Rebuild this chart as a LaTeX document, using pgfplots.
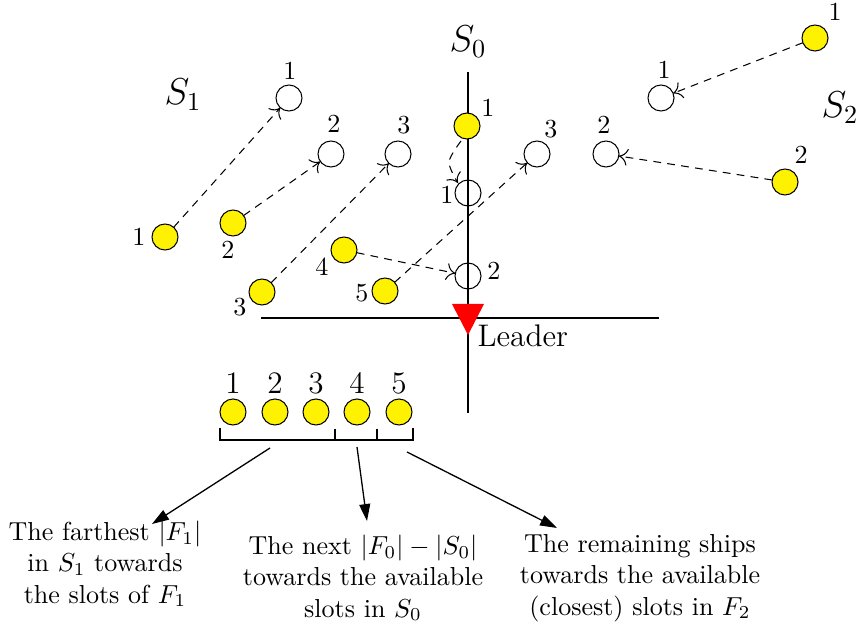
\documentclass[border=0pt]{standalone}
\usepackage{pgfplots}
\pgfplotsset{compat=1.18}
\usetikzlibrary{arrows.meta}
\begin{document}
\begin{tikzpicture}
\begin{axis}[scale only axis, width=330pt, height=241.25pt,
  xmin=0, xmax=859, ymin=0, ymax=628, y dir=reverse,
  hide axis, clip=false]
% horizontal line
\addplot[black, line width=0.5pt, mark=none] coordinates {(261,318) (659,318)};
% dashed moves
\pgfplotsset{mv/.style={black, mark=none, line width=0.4pt, dash pattern=on 3pt off 2.4pt,
  -{To[length=3.4pt,width=6.5pt]}, shorten <=5pt, shorten >=5pt}}
\addplot[mv] coordinates {(165,237) (289,98)};
\addplot[mv] coordinates {(233,223) (331,154)};
\addplot[mv] coordinates {(262,292) (398,154)};
\addplot[mv] coordinates {(344,250) (468,276)};
\addplot[mv] coordinates {(385,291) (537,154)};
\addplot[mv] coordinates {(815,38) (661,98)};
\addplot[mv] coordinates {(785,182) (606,154)};
\addplot[black, mark=none, line width=0.4pt, dash pattern=on 3pt off 2.4pt,
  -{To[length=3.4pt,width=6.5pt]}, smooth] coordinates {(461,141) (449,162) (458,183)};
% ships (yellow)
\addplot[only marks, mark=*, mark size=5pt, mark options={fill=yellow, draw=black, line width=0.4pt}]
 coordinates {(165,237) (233,223) (262,292) (344,250) (385,291) (467,126) (815,38) (785,182)
 (233,412) (275,412) (316,412) (357,412) (399,412)};
% slots (empty)
\addplot[only marks, mark=o, mark size=5pt, mark options={draw=black, line width=0.4pt}]
 coordinates {(289,98) (331,154) (398,154) (468,193) (468,276) (537,154) (606,154) (661,98)};
% vertical line
\addplot[black, line width=0.5pt, mark=none] coordinates {(468,72) (468,413)};
% leader triangle
\addplot[fill=red, draw=none, mark=none] coordinates {(452,304) (484,304) (468,335) (452,304)};
% bracket
\addplot[black, line width=0.4pt, mark=none] coordinates {(220,428) (220,440) (413,440) (413,428)};
\addplot[black, line width=0.4pt, mark=none] coordinates {(335,429) (335,440)};
\addplot[black, line width=0.4pt, mark=none] coordinates {(377,429) (377,440)};
% solid arrows
\pgfplotsset{sa/.style={black, mark=none, line width=0.5pt, -{Triangle[length=6.5pt,width=4.2pt]}}}
\addplot[sa] coordinates {(270,448) (152,524)};
\addplot[sa] coordinates {(357,447) (367,521)};
\addplot[sa] coordinates {(407,452) (557,528)};
% labels
\node at (axis cs:183,95) {\Large $S_1$};
\node at (axis cs:468,42) {\Large $S_0$};
\node at (axis cs:840,108) {\Large $S_2$};
\node at (axis cs:139,237) {1};
\node at (axis cs:228,250) {2};
\node at (axis cs:240,307) {3};
\node at (axis cs:322,267) {4};
\node at (axis cs:362,293) {5};
\node at (axis cs:290,71) {1};
\node at (axis cs:334,124) {2};
\node at (axis cs:404,125) {3};
\node at (axis cs:488,108) {1};
\node at (axis cs:447,195) {1};
\node at (axis cs:494,271) {2};
\node at (axis cs:551,129) {3};
\node at (axis cs:604,125) {2};
\node at (axis cs:664,70) {1};
\node at (axis cs:835,12) {1};
\node at (axis cs:801,155) {2};
\node[anchor=west, inner sep=0pt] at (axis cs:477,336) {\large Leader};
\node at (axis cs:233,383) {\large 1};
\node at (axis cs:275,383) {\large 2};
\node at (axis cs:316,383) {\large 3};
\node at (axis cs:357,383) {\large 4};
\node at (axis cs:399,383) {\large 5};
\node[align=center] at (axis cs:105,564) {The farthest $|F_1|$\\ in $S_1$ towards\\ the slots of $F_1$};
\node[align=center] at (axis cs:363,578) {The next $|F_0|-|S_0|$\\ towards the available\\ slots in $S_0$};
\node[align=center] at (axis cs:640,578) {The remaining ships\\ towards the available\\ (closest) slots in $F_2$};
\end{axis}
\pgfresetboundingbox
\path[use as bounding box] (current axis.south west) rectangle (current axis.north east);
\end{tikzpicture}
\end{document}
